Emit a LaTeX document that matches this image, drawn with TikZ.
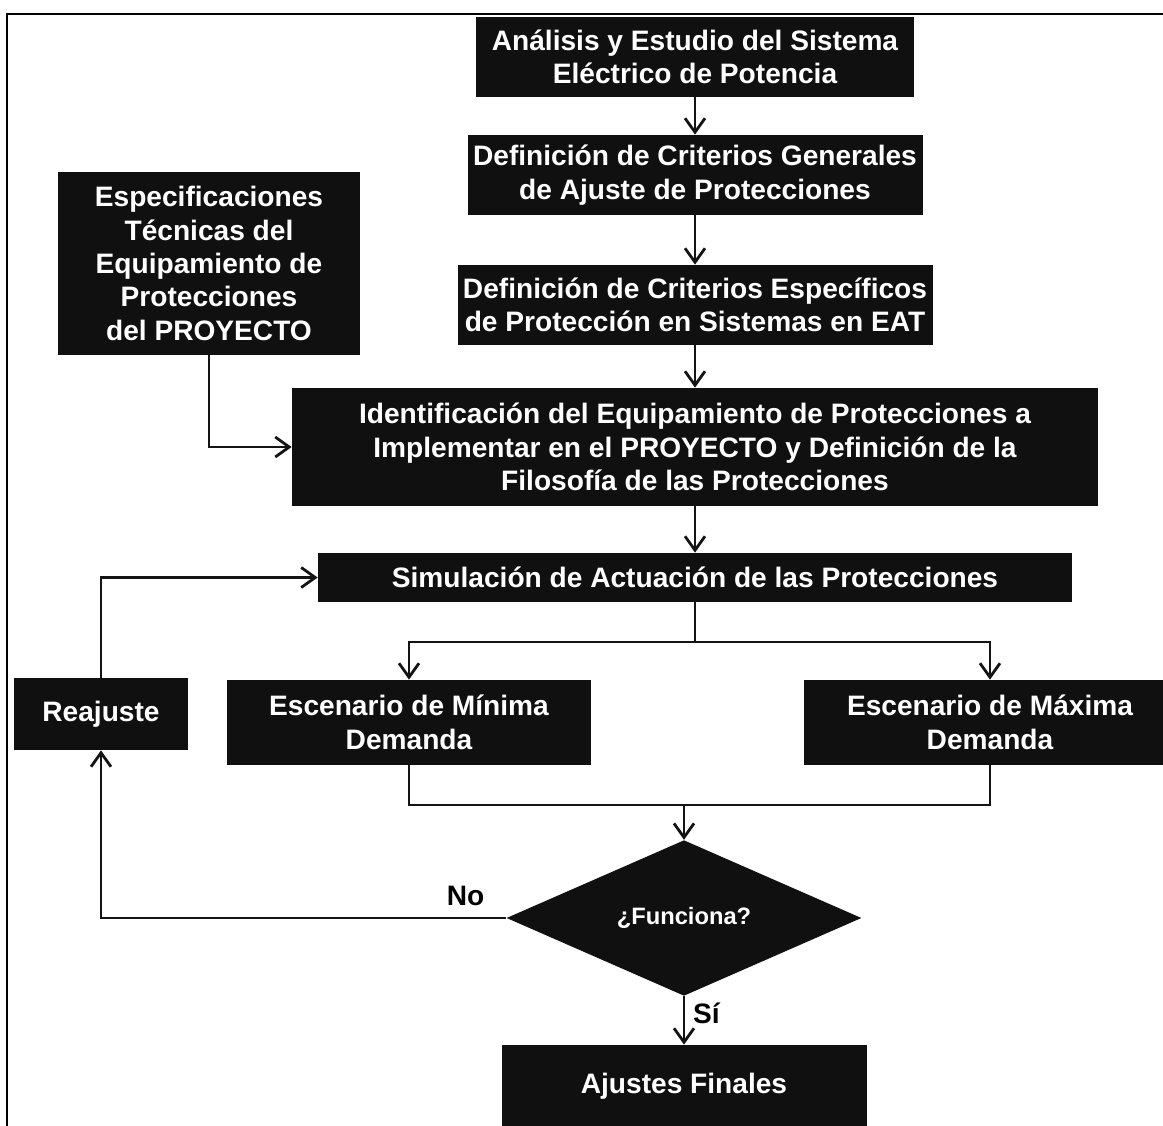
\documentclass[tikz,border=0pt]{standalone}
\usepackage{fontspec}
\setmainfont{Liberation Sans}
\usetikzlibrary{arrows.meta,shapes.geometric}
\definecolor{boxblack}{RGB}{16,16,16}
\definecolor{linedark}{RGB}{20,20,20}

\begin{document}
\begin{tikzpicture}[
    box/.style={
        fill=boxblack, text=white,
        font=\bfseries\fontsize{16}{19}\selectfont,
        align=center, inner sep=0pt
    },
    decision/.style={
        diamond, fill=boxblack, text=white,
        font=\bfseries\fontsize{13.5}{16}\selectfont,
        inner sep=0pt, minimum width=7.1cm, minimum height=2.8cm
    },
    arrow/.style={
        -{Straight Barb[length=2.8mm, width=4mm]},
        line width=1.6pt,
        draw=linedark
    },
    link/.style={line width=1.6pt, draw=linedark},
    answer/.style={font=\bfseries\fontsize{16}{19}\selectfont, text=black}
]

\useasboundingbox (0,0) rectangle (23.26,-22.52);

% =================== Frame ===================
\draw[line width=1.6pt] (0.14,-22.52) -- (0.14,-0.28) -- (23.26,-0.28);

% =================== Main column ===================
\node[box, minimum width=8.76cm, minimum height=1.6cm] (analisis) at (13.9,-1.14)
    {Análisis y Estudio del Sistema\\Eléctrico de Potencia};
\node[box, minimum width=9.1cm, minimum height=1.6cm] (generales) at (13.9,-3.5)
    {Definición de Criterios Generales\\de Ajuste de Protecciones};
\node[box, minimum width=9.5cm, minimum height=1.6cm] (especificos) at (13.9,-6.1)
    {Definición de Criterios Específicos\\de Protección en Sistemas en EAT};
\node[box, minimum width=16.12cm, minimum height=2.36cm] (identif) at (13.9,-8.94)
    {Identificación del Equipamiento de Protecciones a\\Implementar en el PROYECTO y Definición de la\\Filosofía de las Protecciones};
\node[box, minimum width=15.08cm, minimum height=0.98cm] (simul) at (13.9,-11.55)
    {Simulación de Actuación de las Protecciones};

% =================== Side boxes ===================
\node[box, minimum width=6.04cm, minimum height=3.66cm] (tecnicas) at (4.18,-5.27)
    {Especificaciones\\Técnicas del\\Equipamiento de\\Protecciones\\del PROYECTO};
\node[box, minimum width=3.48cm, minimum height=1.44cm] (reajuste) at (2.02,-14.28)
    {Reajuste};

% =================== Scenarios ===================
\node[box, minimum width=7.28cm, minimum height=1.7cm] (minima) at (8.18,-14.45)
    {Escenario de Mínima\\Demanda};
\node[box, minimum width=7.44cm, minimum height=1.7cm] (maxima) at (19.8,-14.45)
    {Escenario de Máxima\\Demanda};

% =================== Decision and end ===================
\node[decision] (funciona) at (13.68,-18.36) {¿Funciona?};
\node[box, minimum width=7.3cm, minimum height=1.64cm] (finales) at (13.68,-21.72)
    {Ajustes Finales};

\coordinate (split) at (13.9,-12.84);
\coordinate (merge) at (13.68,-16.1);

% =================== Connectors ===================
\draw[arrow] (analisis) -- (generales);
\draw[arrow] (generales) -- (especificos);
\draw[arrow] (especificos) -- (identif);
\draw[arrow] (identif) -- (simul);
\draw[arrow] (tecnicas.south) |- (identif.west);

\draw[link] (simul.south) -- (split);
\draw[arrow] (split) -| (minima.north);
\draw[arrow] (split) -| (maxima.north);

\draw[link] (minima.south) |- (merge) -| (maxima.south);
\draw[arrow] (merge) -- (funciona.north);

\draw[arrow] (funciona.west) -| node[answer, pos=0.05, above=3pt] {No} (reajuste.south);
\draw[arrow] (reajuste.north) |- (simul.west);
\draw[arrow] (funciona.south) -- node[answer, pos=0.35, right=1pt] {Sí} (finales.north);

\end{tikzpicture}
\end{document}
